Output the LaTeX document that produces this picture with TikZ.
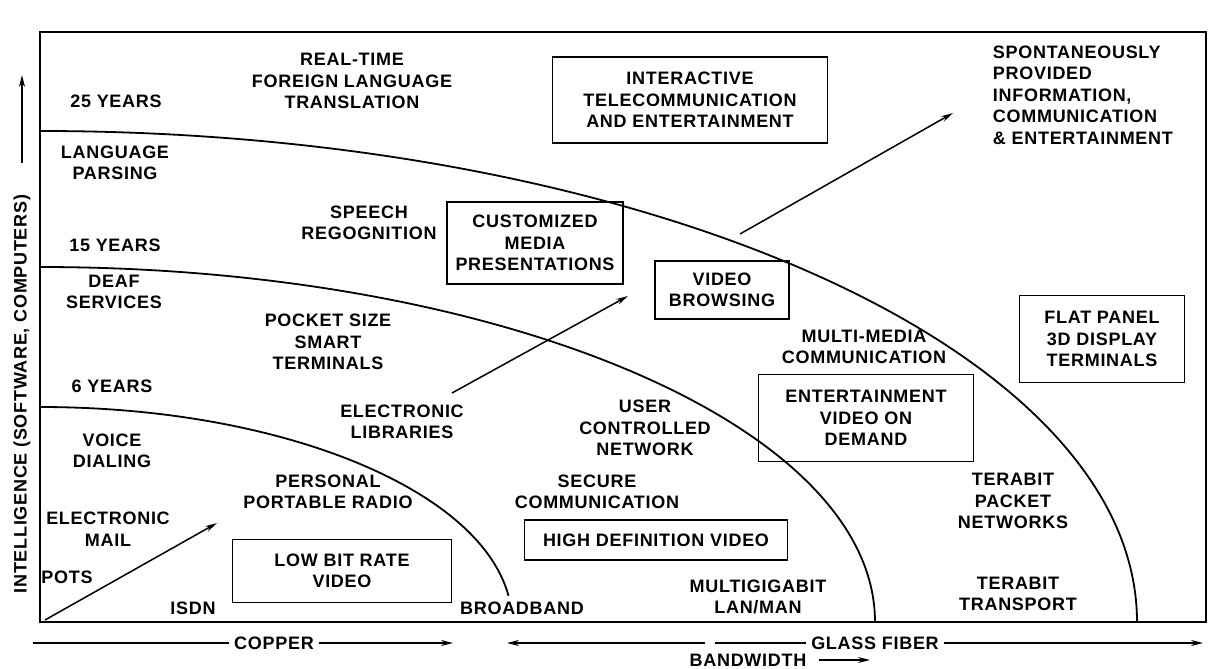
\documentclass[tikz,border=0pt]{standalone}
\usepackage{fontspec}
\setmainfont[LetterSpace=4]{Liberation Sans}
\usetikzlibrary{arrows.meta}

\begin{document}
\begin{tikzpicture}[x=1pt, y=-1pt, line width=1.8pt,
  label node/.style={align=center, inner sep=0pt,
    font=\fontsize{18}{21.5}\selectfont\bfseries},
  box node/.style={label node, draw, line width=1.8pt},
  arr/.style={-{Stealth[length=12pt,width=6pt]}, line width=1.5pt}]
  \useasboundingbox (0,0) rectangle (1227,669);

  % frame and the three horizons
  \draw (40,32) rectangle (1206,622);
  \draw (40,131) arc[start angle=90, end angle=0, x radius=1097pt, y radius=491pt];
  \draw (40,267) arc[start angle=90, end angle=0, x radius=835pt, y radius=355pt];
  \draw (40,407) arc[start angle=90, end angle=7, x radius=472pt, y radius=215pt];

  % years
  \node[label node] (y25) at (116,101) {25 YEARS};
  \node[label node] (y15) at (115,245) {15 YEARS};
  \node[label node] (y6) at (112,386) {6 YEARS};

  % services
  \node[label node] (realtime) at (352,81) {REAL-TIME\\FOREIGN LANGUAGE\\TRANSLATION};
  \node[label node, anchor=west, align=left] (spont) at (992,95) {SPONTANEOUSLY\\PROVIDED\\INFORMATION,\\COMMUNICATION\\\& ENTERTAINMENT};
  \node[label node] (parsing) at (115,163) {LANGUAGE\\PARSING};
  \node[label node] (speech) at (369,223) {SPEECH\\REGOGNITION};
  \node[label node] (deaf) at (114,292) {DEAF\\SERVICES};
  \node[label node] (pocket) at (328,342) {POCKET SIZE\\SMART\\TERMINALS};
  \node[label node] (multimedia) at (864,347) {MULTI-MEDIA\\COMMUNICATION};
  \node[label node] (elib) at (402,422) {ELECTRONIC\\LIBRARIES};
  \node[label node] (user) at (645,428) {USER\\CONTROLLED\\NETWORK};
  \node[label node] (voice) at (112,451) {VOICE\\DIALING};
  \node[label node] (personal) at (328,492) {PERSONAL\\PORTABLE RADIO};
  \node[label node] (secure) at (597,492) {SECURE\\COMMUNICATION};
  \node[label node] (email) at (108,529) {ELECTRONIC\\MAIL};
  \node[label node] (pots) at (67,577) {POTS};
  \node[label node] (isdn) at (193,608) {ISDN};
  \node[label node] (broadband) at (522,608) {BROADBAND};
  \node[label node] (multigig) at (758,597) {MULTIGIGABIT\\LAN/MAN};
  \node[label node] (tpacket) at (1013,501) {TERABIT\\PACKET\\NETWORKS};
  \node[label node] (ttrans) at (1018,594) {TERABIT\\TRANSPORT};

  % boxed services
  \node[box node, minimum width=275pt, minimum height=86pt] (interactive) at (690,100) {INTERACTIVE\\TELECOMMUNICATION\\AND ENTERTAINMENT};
  \node[box node, minimum width=176pt, minimum height=82pt] (custom) at (535,243) {CUSTOMIZED\\MEDIA\\PRESENTATIONS};
  \node[box node, minimum width=134pt, minimum height=58pt] (browse) at (722,290) {VIDEO\\BROWSING};
  \node[box node, minimum width=215pt, minimum height=87pt] (vod) at (866,418) {ENTERTAINMENT\\VIDEO ON\\DEMAND};
  \node[box node, minimum width=165pt, minimum height=87pt] (flat) at (1102,339) {FLAT PANEL\\3D DISPLAY\\TERMINALS};
  \node[box node, minimum width=219pt, minimum height=63pt] (lowbit) at (342,571) {LOW BIT RATE\\VIDEO};
  \node[box node, minimum width=263pt, minimum height=40pt] (hdtv) at (656,540) {HIGH DEFINITION VIDEO};

  % growth arrows
  \coordinate (origin) at (45,620);
  \coordinate (potsTip) at (217,523);
  \coordinate (libTail) at (452,393);
  \coordinate (libTip) at (628,296);
  \coordinate (spontTail) at (740,234);
  \coordinate (spontTip) at (953,113);
  \path[arr] (origin) edge (potsTip)
    (libTail) edge (libTip)
    (spontTail) edge (spontTip);

  % axes
  \node[label node, rotate=90] (intel) at (22,394) {INTELLIGENCE (SOFTWARE, COMPUTERS)};
  \coordinate (intelTail) at (22,163);
  \coordinate (intelTip) at (22,75);
  \draw[arr] (intelTail) -- (intelTip);

  \node[label node, inner xsep=4pt] (copper) at (274,643) {COPPER};
  \coordinate (copperStart) at (33,643);
  \coordinate (copperEnd) at (453,643);
  \draw[line width=1.5pt] (copperStart) -- (copper.west);
  \draw[arr] (copper.east) -- (copperEnd);

  \node[label node, inner xsep=4pt] (glass) at (875,643) {GLASS FIBER};
  \coordinate (glassLeft) at (507,643);
  \coordinate (glassGapL) at (705,643);
  \coordinate (glassGapR) at (715,643);
  \coordinate (glassRight) at (1203,643);
  \draw[arr] (glassGapL) -- (glassLeft);
  \draw[line width=1.5pt] (glassGapR) -- (glass.west);
  \draw[arr] (glass.east) -- (glassRight);

  \node[label node] (bandwidth) at (748,660) {BANDWIDTH};
  \coordinate (bandTip) at (870,660);
  \draw[arr] ([xshift=12pt]bandwidth.east) -- (bandTip);
\end{tikzpicture}
\end{document}
